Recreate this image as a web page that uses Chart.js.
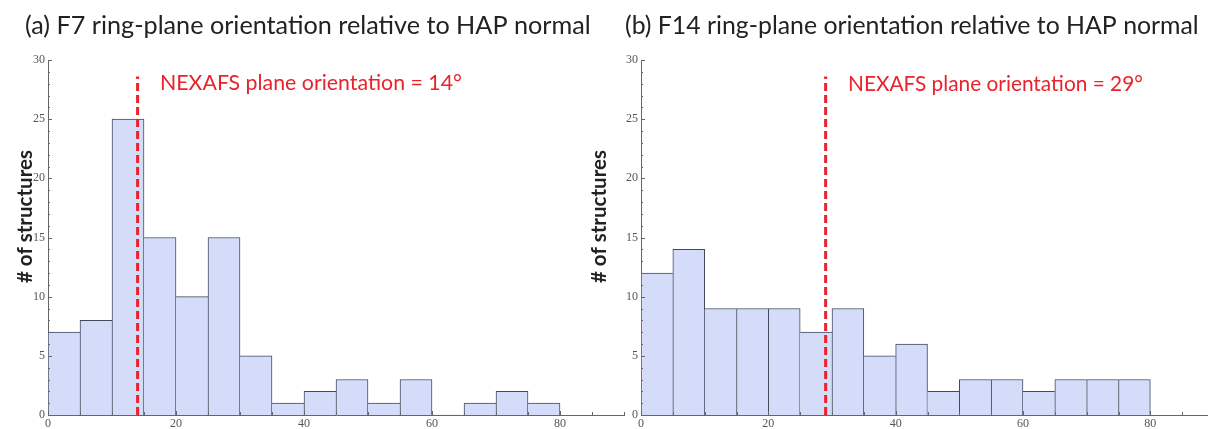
<!DOCTYPE html>
<html><head><meta charset="utf-8">
<script src="https://cdn.jsdelivr.net/npm/chart.js@4.4.1/dist/chart.umd.min.js"></script>
<style>
html,body{margin:0;padding:0;background:#fff;overflow:hidden;width:1208px;height:429px;}
#wa{position:absolute;left:0;top:0;width:630px;height:429px;}
#wb{position:absolute;left:590px;top:0;width:630px;height:429px;}
canvas{display:block;}
</style></head><body>
<div id="wa"><canvas id="ca" width="630" height="429"></canvas></div>
<div id="wb"><canvas id="cb" width="630" height="429"></canvas></div>
<script>
// ---- data ----
const binStarts = [0,5,10,15,20,25,30,35,40,45,50,55,60,65,70,75];
const binWidth = 5;
const countsF7  = [7,8,25,15,10,15,5,1,2,3,1,3,0,1,2,1];
const countsF14 = [12,14,9,9,9,7,9,5,6,2,3,3,2,3,3,3];
const xTickLabels = [0,20,40,60,80];
const yTickLabels = [0,5,10,15,20,25,30];
const xMax = 90;
const yMax = 30;
const nexafsF7 = 14;
const nexafsF14 = 29;
const markerTop = 28.6;
const titleA = '(a) F7 ring-plane orientation relative to HAP normal';
const titleB = '(b) F14 ring-plane orientation relative to HAP normal';
const yAxisTitle = '# of structures';
const annA = 'NEXAFS plane orientation = 14°';
const annB = 'NEXAFS plane orientation = 29°';

// ---- styles ----
const BAR_FILL = 'rgb(212,220,250)';
const BAR_EDGE = '#434a5c';
const AXIS = '#666';
const RED = '#e8232b';
const TICK_FONT = {family: 'Liberation Serif', size: 12};

function fitSize(ctx, text, weight, family, w) {
  ctx.font = weight + ' 100px ' + family;
  return 100 * w / ctx.measureText(text).width;
}

function makeChart(id, counts, marker, L) {
  const barData = binStarts.map((s, i) => ({x: s + binWidth / 2, y: counts[i]}));
  const bw = (c) => {
    const i = c.dataIndex, v = counts[i];
    const prev = i > 0 ? counts[i - 1] : -1;
    const next = i < counts.length - 1 ? counts[i + 1] : -1;
    return {top: 1, bottom: 0, left: (prev <= v) ? 1 : 0, right: (next < v) ? 1 : 0};
  };
  const deco = {
    id: 'deco' + id,
    afterDraw(chart) {
      const ctx = chart.ctx, xs = chart.scales.x, ys = chart.scales.y, a = chart.chartArea;
      ctx.save();
      // inward ticks
      ctx.strokeStyle = AXIS; ctx.lineWidth = 1;
      ctx.beginPath();
      for (let v = 0; v <= yMax; v++) {
        const y = Math.round(ys.getPixelForValue(v)) + 0.5;
        const len = (v % 5 === 0) ? 4 : 2;
        ctx.moveTo(a.left, y); ctx.lineTo(a.left + len, y);
      }
      for (let v = 0; v <= xMax; v += 5) {
        const x = Math.round(xs.getPixelForValue(v)) + 0.5;
        const len = (v % 20 === 0) ? 4 : 3;
        ctx.moveTo(x, a.bottom); ctx.lineTo(x, a.bottom - len);
      }
      ctx.stroke();
      // title
      ctx.fillStyle = '#222';
      ctx.textBaseline = 'alphabetic'; ctx.textAlign = 'left';
      let s = fitSize(ctx, L.title, 'normal', 'Lato', L.titleW);
      ctx.font = 'normal ' + s + 'px Lato';
      ctx.fillText(L.title, L.titleX, L.titleY);
      // annotation
      ctx.fillStyle = RED;
      s = fitSize(ctx, L.ann, 'normal', 'Lato', L.annW);
      ctx.font = 'normal ' + s + 'px Lato';
      ctx.fillText(L.ann, L.annX, L.annY);
      // y axis title
      ctx.fillStyle = '#222';
      s = fitSize(ctx, yAxisTitle, 'bold', 'Lato', L.yW);
      ctx.font = 'bold ' + s + 'px Lato';
      ctx.translate(L.yX, L.yStart);
      ctx.rotate(-Math.PI / 2);
      ctx.fillText(yAxisTitle, 0, 0);
      ctx.restore();
    }
  };
  return new Chart(document.getElementById(id), {
    data: {
      datasets: [
        {type: 'line', data: [{x: marker, y: 0}, {x: marker, y: markerTop}],
         borderColor: RED, borderWidth: 3, borderDash: [8, 4], borderCapStyle: 'butt',
         pointRadius: 0, order: 0, clip: false},
        {type: 'bar', data: barData, backgroundColor: BAR_FILL, borderColor: BAR_EDGE,
         borderWidth: bw, borderSkipped: false, barPercentage: 1, categoryPercentage: 1, order: 1}
      ]
    },
    options: {
      responsive: false, animation: false, devicePixelRatio: 1,
      layout: {padding: {top: 60, right: L.padRight, left: 0, bottom: 0}},
      plugins: {legend: {display: false}, tooltip: {enabled: false}, title: {display: false}},
      scales: {
        x: {type: 'linear', min: 0, max: xMax, offset: false,
            grid: {display: false, drawTicks: false},
            border: {display: true, color: AXIS, width: 1},
            afterBuildTicks: (sc) => { sc.ticks = xTickLabels.map(v => ({value: v})); },
            afterFit: (sc) => { sc.height = 14; },
            ticks: {font: TICK_FONT, color: '#555', padding: 2, maxRotation: 0, autoSkip: false}},
        y: {type: 'linear', min: 0, max: yMax,
            grid: {display: false, drawTicks: false},
            border: {display: true, color: AXIS, width: 1},
            afterBuildTicks: (sc) => { sc.ticks = yTickLabels.map(v => ({value: v})); },
            afterFit: (sc) => { sc.width = L.yAxisW; },
            ticks: {font: TICK_FONT, color: '#555', padding: 3}}
      }
    },
    plugins: [deco]
  });
}

makeChart('ca', countsF7, nexafsF7, {
  title: titleA, titleX: 25, titleY: 34, titleW: 566,
  ann: annA, annX: 160, annY: 90, annW: 302,
  yX: 32, yStart: 283, yW: 133,
  yAxisW: 48, padRight: 6
});
makeChart('cb', countsF14, nexafsF14, {
  title: titleB, titleX: 35, titleY: 34, titleW: 574,
  ann: annB, annX: 258, annY: 91, annW: 295,
  yX: 16, yStart: 283, yW: 133,
  yAxisW: 51, padRight: 6
});
</script>
</body></html>
